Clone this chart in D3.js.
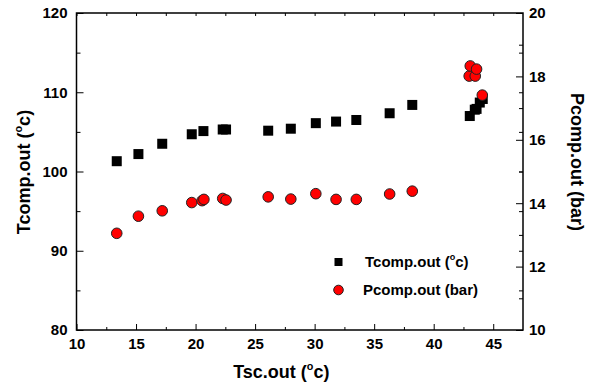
<!DOCTYPE html>
<html>
<head>
<meta charset="utf-8">
<script src="https://cdn.jsdelivr.net/npm/d3@7"></script>
<style>
  body { margin: 0; background: #fff; }
  svg text { font-family: "Liberation Sans", Arial, sans-serif; font-weight: bold; fill: #000; }
</style>
</head>
<body>
<svg id="chart" width="594" height="390"></svg>
<script>
// data
var tscOut = [13.38, 15.2, 17.2, 19.68, 20.66, 22.28, 22.56, 26.1, 28.0, 30.1, 31.8, 33.5, 36.3, 38.2,
              43.03, 43.45, 43.6, 43.87, 44.12];
var tcompOut = [101.3, 102.2, 103.5, 104.7, 105.1, 105.3, 105.3, 105.15, 105.4, 106.1, 106.3, 106.5, 107.35, 108.4,
                107.0, 107.8, 107.9, 108.7, 109.15];
var tscOutP = [13.38, 15.2, 17.2, 19.68, 20.55, 20.7, 22.28, 22.56, 26.1, 28.0, 30.1, 31.8, 33.5, 36.3, 38.2,
               42.98, 43.07, 43.49, 43.6, 44.08];
var pcompOut = [13.05, 13.59, 13.76, 14.02, 14.08, 14.12, 14.15, 14.1, 14.2, 14.13, 14.3, 14.12, 14.12, 14.29, 14.38,
                18.01, 18.33, 18.01, 18.23, 17.41];

var xTicks = [10, 15, 20, 25, 30, 35, 40, 45];
var yTicks = [80, 90, 100, 110, 120];
var pTicks = [10, 12, 14, 16, 18, 20];

var svg = d3.select("#chart");
var margin = {top: 13, right: 71, bottom: 60, left: 76.5};
var width = 594 - margin.left - margin.right;
var height = 390 - margin.top - margin.bottom;

var x = d3.scaleLinear().domain([10, 47.5]).range([margin.left, margin.left + width]);
var y = d3.scaleLinear().domain([80, 120]).range([margin.top + height, margin.top]);
var yP = d3.scaleLinear().domain([10, 20]).range([margin.top + height, margin.top]);

var xMinor = d3.range(12.5, 47.5, 5);
var yMinor = [85, 95, 105, 115];
var pMinor = [11, 13, 15, 17, 19];

function clean(g) {
  g.select(".domain").remove();
  g.selectAll("line").attr("stroke", "#000").attr("stroke-width", 1);
}

// bottom axis
svg.append("g")
  .attr("transform", "translate(0," + (margin.top + height) + ")")
  .call(d3.axisBottom(x).tickValues(xTicks).tickSize(-6).tickPadding(8))
  .call(clean)
  .selectAll("text").style("font-size", "15px");
svg.append("g")
  .attr("transform", "translate(0," + (margin.top + height) + ")")
  .call(d3.axisBottom(x).tickValues(xMinor).tickSize(-3).tickFormat(""))
  .call(clean);
// top axis (ticks only)
svg.append("g")
  .attr("transform", "translate(0," + margin.top + ")")
  .call(d3.axisTop(x).tickValues(xTicks.concat(xMinor)).tickSize(-3).tickFormat(""))
  .call(clean);

// left axis
svg.append("g")
  .attr("transform", "translate(" + margin.left + ",0)")
  .call(d3.axisLeft(y).tickValues(yTicks).tickSize(-7).tickPadding(9))
  .call(clean)
  .selectAll("text").style("font-size", "15px");
svg.append("g")
  .attr("transform", "translate(" + margin.left + ",0)")
  .call(d3.axisLeft(y).tickValues(yMinor).tickSize(-4).tickFormat(""))
  .call(clean);

// right axis
svg.append("g")
  .attr("transform", "translate(" + (margin.left + width) + ",0)")
  .call(d3.axisRight(yP).tickValues(pTicks).tickSize(-7).tickPadding(6))
  .call(clean)
  .selectAll("text").style("font-size", "15px");
svg.append("g")
  .attr("transform", "translate(" + (margin.left + width) + ",0)")
  .call(d3.axisRight(yP).tickValues(pMinor).tickSize(-4).tickFormat(""))
  .call(clean);
svg.append("g")
  .attr("transform", "translate(" + (margin.left + width) + ",0)")
  .call(d3.axisRight(y).tickValues(yTicks.slice(1, 4).concat(yMinor)).tickSize(-4).tickFormat(""))
  .call(clean);

// frame
svg.append("rect")
  .attr("x", margin.left).attr("y", margin.top)
  .attr("width", width).attr("height", height)
  .attr("fill", "none").attr("stroke", "#000").attr("stroke-width", 1.5);

// squares (Tcomp.out)
var sq = 10;
svg.append("g").selectAll("rect")
  .data(tscOut)
  .enter().append("rect")
  .attr("x", function (d) { return x(d) - sq / 2; })
  .attr("y", function (d, i) { return y(tcompOut[i]) - sq / 2; })
  .attr("width", sq).attr("height", sq)
  .attr("fill", "#000");

// circles (Pcomp.out)
svg.append("g").selectAll("circle")
  .data(tscOutP)
  .enter().append("circle")
  .attr("cx", function (d) { return x(d); })
  .attr("cy", function (d, i) { return yP(pcompOut[i]); })
  .attr("r", 5.3)
  .attr("fill", "#ff0000")
  .attr("stroke", "#222").attr("stroke-width", 1);

// axis titles, degree sign as a raised small "o"
function degTitle(t, before, after) {
  t.append("tspan").text(before);
  t.append("tspan").attr("dy", "-0.75em").style("font-size", "0.6em").text("o");
  t.append("tspan").attr("dy", "0.45em").text(after);
}
var xt = svg.append("text")
  .attr("x", x(27.2)).attr("y", 378)
  .attr("text-anchor", "middle").style("font-size", "18px");
degTitle(xt, "Tsc.out (", "c)");

var yt = svg.append("text")
  .attr("transform", "translate(30,172) rotate(-90)")
  .attr("text-anchor", "middle").style("font-size", "18px");
degTitle(yt, "Tcomp.out (", "c)");

svg.append("text")
  .attr("transform", "translate(571,162) rotate(90)")
  .attr("text-anchor", "middle").style("font-size", "18px")
  .text("Pcomp.out (bar)");

// legend
var legend = svg.append("g");
legend.append("rect")
  .attr("x", 338.5 - 4).attr("y", 262 - 4)
  .attr("width", 8).attr("height", 8).attr("fill", "#000");
var lt = legend.append("text")
  .attr("x", 365).attr("y", 267).style("font-size", "15px");
degTitle(lt, "Tcomp.out (", "c)");
legend.append("circle")
  .attr("cx", 338.5).attr("cy", 290).attr("r", 4.8)
  .attr("fill", "#ff0000").attr("stroke", "#222").attr("stroke-width", 1);
legend.append("text")
  .attr("x", 363).attr("y", 295).style("font-size", "15px")
  .text("Pcomp.out (bar)");
</script>
</body>
</html>
